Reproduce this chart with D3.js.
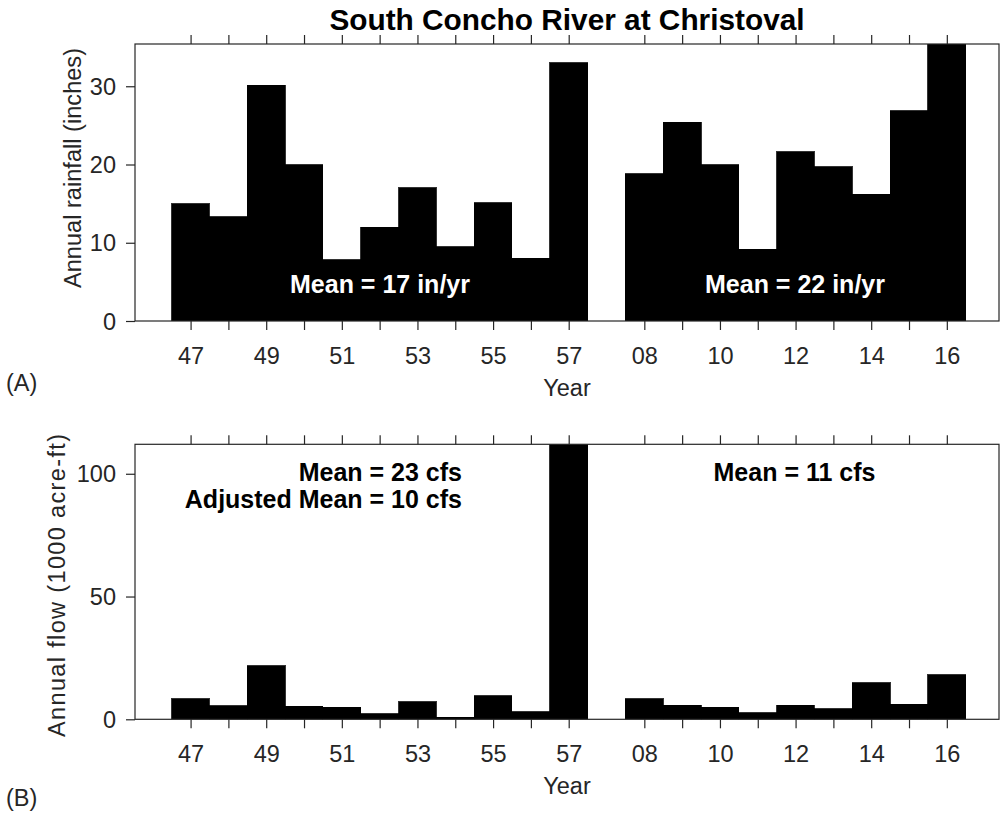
<!DOCTYPE html>
<html lang="en">
<head>
<meta charset="UTF-8">
<title>South Concho River at Christoval</title>
<script src="https://cdn.jsdelivr.net/npm/d3@7"></script>
<style>
    body { margin: 0; background: #fff; }
    svg { font-family: "Liberation Sans", Arial, sans-serif; }
    .tick text { fill: #262626; font-size: 23.5px; }
    .lbl { fill: #262626; font-size: 23.5px; }
    .note { font-weight: bold; font-size: 25px; }
</style>
</head>
<body>
<svg width="1002" height="815"></svg>
<script>
// years in two records, with one empty slot between them
const years = ["47","48","49","50","51","52","53","54","55","56","57",
               "08","09","10","11","12","13","14","15","16"];
const slots = [0,1,2,3,4,5,6,7,8,9,10, 12,13,14,15,16,17,18,19,20];
const shownYears = ["47","49","51","53","55","57","08","10","12","14","16"];

// annual rainfall, inches
const rainfall = [15.0, 13.3, 30.1, 20.0, 7.8, 12.0, 17.0, 9.5, 15.1, 8.0, 33.0,
                  18.8, 25.4, 20.0, 9.2, 21.6, 19.7, 16.2, 26.9, 36.0];
// annual flow, 1000 acre-ft
const flow = [8.4, 5.5, 21.9, 5.3, 4.9, 2.2, 7.2, 0.8, 9.5, 3.1, 116,
              8.3, 5.8, 5.0, 2.6, 5.8, 4.3, 14.8, 6.2, 18.1];

const rainTicks = [0, 10, 20, 30];
const flowTicks = [0, 50, 100];

const svg = d3.select("svg");
const left = 135, right = 999;

const x = d3.scaleLinear().domain([-1.47, 21.38]).range([left, right]);
const bw = x(1) - x(0);

function panel(id, top, bottom, ymax, values, ticks, ylabel, lab) {
    const y = d3.scaleLinear().domain([0, ymax]).range([bottom, top]);
    const g = svg.append("g");

    g.append("clipPath").attr("id", id)
        .append("rect").attr("x", left).attr("y", top)
        .attr("width", right - left).attr("height", bottom - top);

    g.append("g").attr("clip-path", `url(#${id})`)
        .attr("shape-rendering", "crispEdges")
        .selectAll("rect").data(values).join("rect")
        .attr("x", (d, i) => x(slots[i]) - bw / 2)
        .attr("width", bw)
        .attr("y", d => y(d))
        .attr("height", d => bottom - y(d))
        .attr("fill", "#000").attr("stroke", "#000").attr("stroke-width", 0.8);

    // frame
    g.append("rect").attr("x", left).attr("y", top)
        .attr("width", right - left).attr("height", bottom - top)
        .attr("fill", "none").attr("stroke", "#262626").attr("stroke-width", 1.2);

    const yearTick = d3.axisBottom(x).tickValues(slots).tickSize(9)
        .tickFormat(d => {
            const yr = years[slots.indexOf(d)];
            return shownYears.includes(yr) ? yr : "";
        }).tickPadding(17);

    const xb = g.append("g").attr("transform", `translate(0,${bottom})`).call(yearTick);
    const xt = g.append("g").attr("transform", `translate(0,${top})`)
        .call(d3.axisTop(x).tickValues(slots).tickSize(9).tickFormat(""));
    const ya = g.append("g").attr("transform", `translate(${left},0)`)
        .call(d3.axisLeft(y).tickValues(ticks).tickSize(9).tickPadding(10));

    [xb, xt, ya].forEach(a => {
        a.select(".domain").remove();
        a.selectAll(".tick line").attr("stroke", "#262626").attr("stroke-width", 1.2);
        a.selectAll("text").attr("font-family", null).attr("font-size", null);
    });
    ya.selectAll("text").attr("dy", "0.35em");

    g.append("text").attr("class", "lbl")
        .attr("transform", `translate(${lab.x},${lab.y}) rotate(-90)`)
        .attr("text-anchor", "middle")
        .attr("textLength", lab.len).attr("lengthAdjust", "spacing")
        .text(ylabel);

    g.append("text").attr("class", "lbl")
        .attr("x", 567).attr("y", bottom + 75)
        .attr("text-anchor", "middle").text("Year");
    return y;
}

const yA = panel("clipA", 44, 321, 35.4, rainfall, rainTicks, "Annual rainfall (inches)",
    {x: 81, y: 168, len: 240});
const yB = panel("clipB", 444.3, 719.3, 112, flow, flowTicks, "Annual flow (1000 acre-ft)",
    {x: 65, y: 585.5, len: 303});

svg.append("text").attr("x", 567).attr("y", 30).attr("text-anchor", "middle")
    .attr("font-weight", "bold").attr("font-size", 29.8).attr("fill", "#000")
    .text("South Concho River at Christoval");

svg.append("text").attr("class", "lbl").attr("x", 6).attr("y", 391).text("(A)");
svg.append("text").attr("class", "lbl").attr("x", 6).attr("y", 806).text("(B)");

// annotations
svg.append("text").attr("class", "note").attr("fill", "#fff")
    .attr("x", 380).attr("y", 293).attr("text-anchor", "middle").text("Mean = 17 in/yr");
svg.append("text").attr("class", "note").attr("fill", "#fff")
    .attr("x", 795).attr("y", 293).attr("text-anchor", "middle").text("Mean = 22 in/yr");
svg.append("text").attr("class", "note").attr("fill", "#000")
    .attr("x", 462).attr("y", 481).attr("text-anchor", "end").text("Mean = 23 cfs");
svg.append("text").attr("class", "note").attr("fill", "#000")
    .attr("x", 462).attr("y", 508).attr("text-anchor", "end").text("Adjusted Mean = 10 cfs");
svg.append("text").attr("class", "note").attr("fill", "#000")
    .attr("x", 794.5).attr("y", 481).attr("text-anchor", "middle").text("Mean = 11 cfs");
</script>
</body>
</html>
